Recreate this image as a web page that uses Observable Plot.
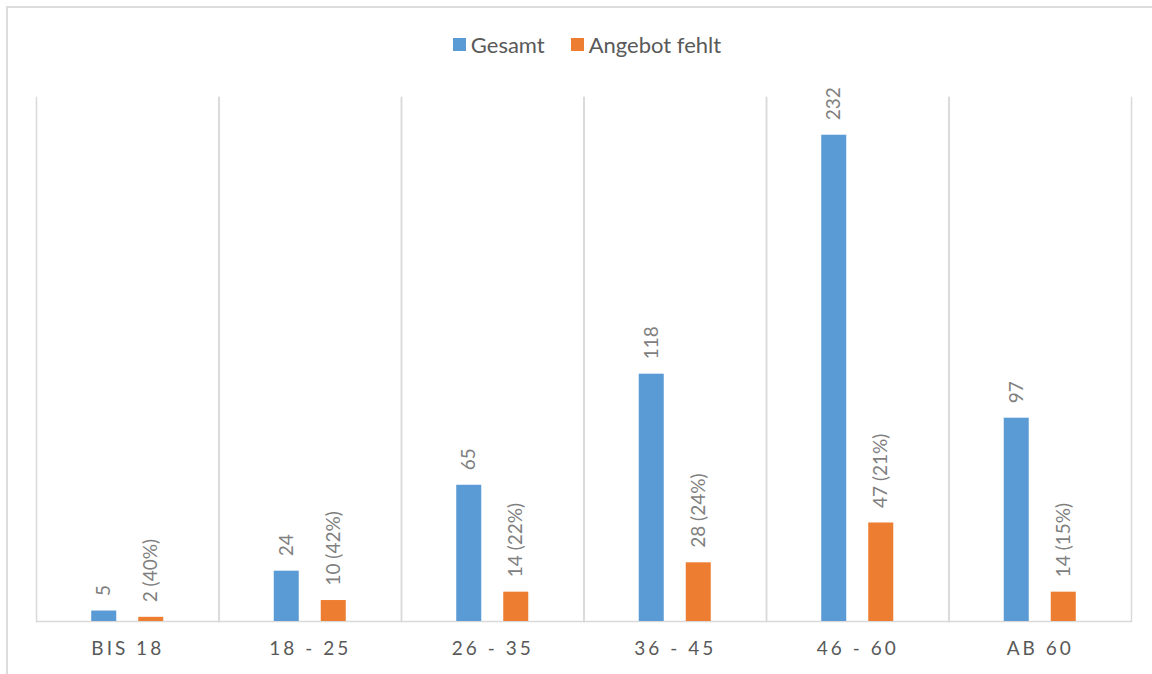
<!DOCTYPE html>
<html>
<head>
<meta charset="utf-8">
<script src="https://cdn.jsdelivr.net/npm/d3@7"></script>
<script src="https://cdn.jsdelivr.net/npm/@observablehq/plot@0.6"></script>
<style>
  html, body { margin: 0; padding: 0; background: #fff; }
  body { width: 1152px; height: 674px; position: relative; overflow: hidden; font-family: Lato, "Open Sans", sans-serif; }
  #frame { position: absolute; left: 6px; top: 6px; right: -4px; bottom: -4px;
           border-top: 2px solid #dcdcdc; border-left: 2px solid #dcdcdc; }
  #legend { position: absolute; left: 0; top: 31px; width: 1174px; height: 26px;
            display: flex; justify-content: center; align-items: center;
            font-size: 22px; color: #595959; }
  #legend .item { display: flex; align-items: center; margin: 0 13px; }
  #legend .swatch { width: 13px; height: 13px; margin-right: 5px; }
  #chart { position: absolute; left: 0; top: 60px; }
  #chart g[aria-label="fx-axis tick label"] text { letter-spacing: 3px; }
</style>
</head>
<body>
<div id="frame"></div>
<div id="legend"></div>
<div id="chart"></div>
<script>
// Age groups and counts per group
const ages = ["BIS 18", "18 - 25", "26 - 35", "36 - 45", "46 - 60", "AB 60"];
const gesamt = [5, 24, 65, 118, 232, 97];
const angebotFehlt = [2, 10, 14, 28, 47, 14];
const angebotFehltPct = [40, 42, 22, 24, 21, 15];
const seriesNames = ["Gesamt", "Angebot fehlt"];
const seriesColors = ["#5b9bd5", "#ed7d31"];

const rows = ages.flatMap((age, i) => [
  {age, series: seriesNames[0], value: gesamt[i], label: `${gesamt[i]}`},
  {age, series: seriesNames[1], value: angebotFehlt[i], label: `${angebotFehlt[i]} (${angebotFehltPct[i]}%)`}
]);

// Legend
const legend = document.getElementById("legend");
seriesNames.forEach((name, i) => {
  const item = document.createElement("div");
  item.className = "item";
  const sw = document.createElement("div");
  sw.className = "swatch";
  sw.style.background = seriesColors[i];
  const label = document.createElement("span");
  label.textContent = name;
  item.append(sw, label);
  legend.append(item);
});

const grid = "#d9d9d9";

const chart = Plot.plot({
  width: 1152,
  height: 614,
  marginTop: 37,
  marginBottom: 53,
  marginLeft: 36,
  marginRight: 21,
  style: {fontFamily: "Lato, 'Open Sans', sans-serif", background: "transparent", overflow: "visible"},
  fx: {domain: ages, padding: 0, round: false, label: null},
  x: {domain: seriesNames, paddingInner: 0.468, paddingOuter: 1.175, round: false, axis: null},
  y: {domain: [0, 250], axis: null},
  color: {domain: seriesNames, range: seriesColors},
  marks: [
    Plot.frame({anchor: "left", stroke: grid, strokeWidth: 1.5}),
    Plot.frame({anchor: "right", stroke: grid, strokeWidth: 1.5}),
    Plot.ruleY([0], {stroke: grid, strokeWidth: 1.5}),
    Plot.barY(rows, {fx: "age", x: "series", y: "value", fill: "series"}),
    Plot.text(rows, {
      fx: "age", x: "series", y: "value", text: "label",
      rotate: -90, textAnchor: "start", dy: -15,
      fill: "#7f7f7f", fontSize: 19
    }),
    Plot.axisFx({
      anchor: "bottom", tickSize: 0, tickPadding: 20, label: null,
      fontSize: 19, fill: "#595959"
    })
  ]
});
document.getElementById("chart").append(chart);
</script>
</body>
</html>
